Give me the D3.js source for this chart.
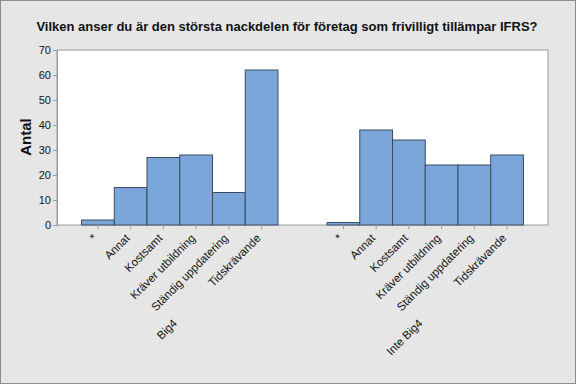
<!DOCTYPE html>
<html>
<head>
<meta charset="utf-8">
<script src="https://cdn.jsdelivr.net/npm/d3@7"></script>
<style>
  body { margin: 0; background: #e6e6e6; }
  svg { display: block; font-family: "Liberation Sans", Arial, sans-serif; }
</style>
</head>
<body>
<svg></svg>
<script>
const width = 576, height = 384;
const margin = { top: 50, right: 28, bottom: 159, left: 57 };

const groups = ["Big4", "Inte Big4"];
const categories = ["*", "Annat", "Kostsamt", "Kräver utbildning", "Ständig uppdatering", "Tidskrävande"];
const big4Values = [2, 15, 27, 28, 13, 62];
const inteBig4Values = [1, 38, 34, 24, 24, 28];
const yTicks = [0, 10, 20, 30, 40, 50, 60, 70];

const seriesByGroup = { "Big4": big4Values, "Inte Big4": inteBig4Values };

const innerWidth = width - margin.left - margin.right;
const innerHeight = height - margin.top - margin.bottom;

const svg = d3.select("svg")
    .attr("width", width)
    .attr("height", height);

svg.append("rect")
    .attr("x", 0.5).attr("y", 0.5)
    .attr("width", width - 1).attr("height", height - 1)
    .attr("fill", "#e6e6e6")
    .attr("stroke", "#8c8c8c");

svg.append("text")
    .attr("x", 287)
    .attr("y", 31)
    .attr("text-anchor", "middle")
    .attr("font-size", 13)
    .attr("font-weight", "bold")
    .attr("fill", "#111")
    .text("Vilken anser du är den största nackdelen för företag som frivilligt tillämpar IFRS?");

const g = svg.append("g")
    .attr("transform", `translate(${margin.left},${margin.top})`);

g.append("rect")
    .attr("width", innerWidth)
    .attr("height", innerHeight)
    .attr("fill", "#fff")
    .attr("stroke", "#9a9a9a");

const xGroup = d3.scaleBand()
    .domain(groups)
    .range([0, innerWidth])
    .paddingInner(0.2)
    .paddingOuter(0.1);

const xCat = d3.scaleBand()
    .domain(categories)
    .range([0, xGroup.bandwidth()])
    .padding(0);

const yScale = d3.scaleLinear().domain([0, 70]).range([innerHeight, 0]);

// y axis
const yAxis = g.append("g")
    .call(d3.axisLeft(yScale).tickValues(yTicks).tickSize(4).tickPadding(2));
yAxis.select(".domain").attr("stroke", "#9a9a9a");
yAxis.selectAll(".tick line").attr("stroke", "#9a9a9a");
yAxis.selectAll("text")
    .attr("font-family", "Liberation Sans, Arial, sans-serif")
    .attr("font-size", 11)
    .attr("fill", "#111");

svg.append("text")
    .attr("transform", `translate(31,137) rotate(-90)`)
    .attr("text-anchor", "middle")
    .attr("font-size", 15)
    .attr("font-weight", "bold")
    .attr("fill", "#111")
    .text("Antal");

// bars
groups.forEach(grp => {
    const gg = g.append("g")
        .attr("transform", `translate(${xGroup(grp)},0)`);

    const data = categories.map((c, i) => ({ c, v: seriesByGroup[grp][i] }));

    gg.selectAll("rect")
        .data(data)
        .enter().append("rect")
        .attr("x", d => xCat(d.c))
        .attr("y", d => yScale(d.v))
        .attr("width", xCat.bandwidth())
        .attr("height", d => innerHeight - yScale(d.v))
        .attr("fill", "#7ba6d9")
        .attr("stroke", "#3d4c60")
        .attr("stroke-width", 1);

    const xAxis = gg.append("g")
        .attr("transform", `translate(0,${innerHeight})`)
        .call(d3.axisBottom(xCat).tickSize(4));
    xAxis.select(".domain").remove();
    xAxis.selectAll(".tick line").attr("stroke", "#9a9a9a");
    xAxis.selectAll("text")
        .attr("font-family", "Liberation Sans, Arial, sans-serif")
        .attr("font-size", 11.5)
        .attr("fill", "#111")
        .attr("text-anchor", "end")
        .attr("x", 0)
        .attr("y", 0)
        .attr("dy", "0.35em")
        .attr("transform", "translate(-3,11) rotate(-45)");

    gg.append("text")
        .attr("transform", `translate(${xGroup.bandwidth() / 2 - 2},${innerHeight + 99}) rotate(-45)`)
        .attr("text-anchor", "end")
        .attr("font-size", 11.5)
        .attr("fill", "#111")
        .text(grp);
});
</script>
</body>
</html>
